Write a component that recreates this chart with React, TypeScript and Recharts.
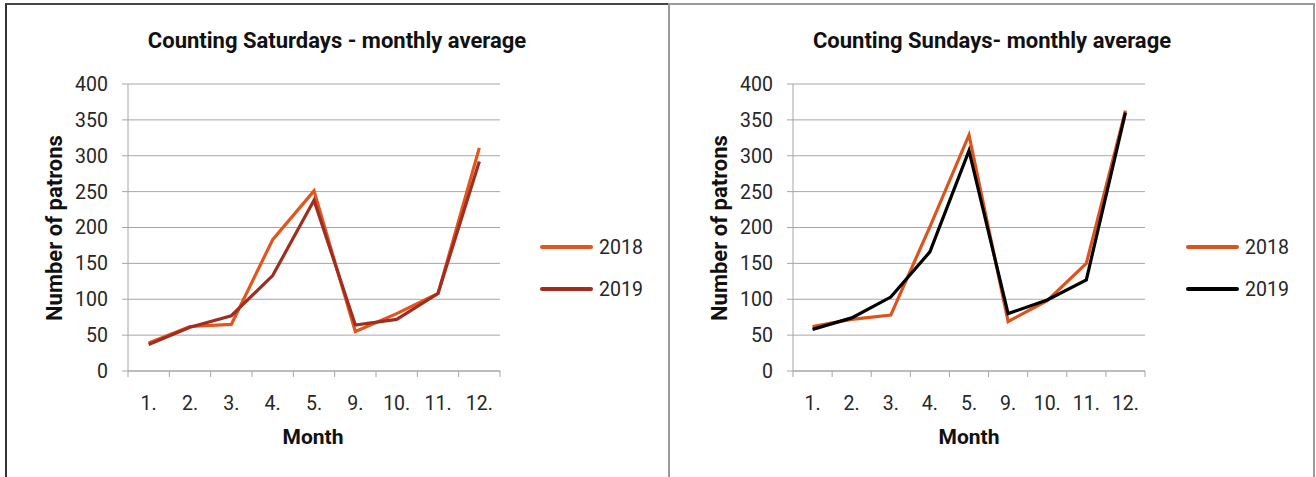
import { LineChart, Line, XAxis, YAxis, CartesianGrid, Legend } from 'recharts';

const months = ['1.', '2.', '3.', '4.', '5.', '9.', '10.', '11.', '12.'];
const yTicks = [0, 50, 100, 150, 200, 250, 300, 350, 400];
const edgeTicks = [0, 1, 2, 3, 4, 5, 6, 7, 8, 9];

const sat2018 = [39, 62, 65, 183, 251, 55, 80, 108, 311];
const sat2019 = [37, 61, 77, 133, 238, 64, 72, 108, 292];
const sun2018 = [62, 72, 78, 201, 329, 69, 98, 150, 363];
const sun2019 = [58, 74, 103, 166, 307, 80, 99, 127, 360];

const FONT = 'Roboto, "DejaVu Sans", sans-serif';
const GRID = '#a6a6a6';
const TEXT = '#262626';

const build = (a: number[], b: number[]) =>
  months.map((m, i) => ({ x: i + 0.5, month: m, y2018: a[i], y2019: b[i] }));

const satData = build(sat2018, sat2019);
const sunData = build(sun2018, sun2019);

// month labels sit between the tick marks, like Excel
const MonthTick = (props: any) => {
  const { x, y, payload, width } = props;
  const v = payload.value;
  if (v >= months.length) return <g />;
  const step = (typeof width === 'number' && width > 0 ? width : 360) / months.length;
  return (
    <text x={x + step / 2} y={y + 31} textAnchor="middle" fill={TEXT} fontSize={19.5} fontFamily={FONT}>
      {months[v]}
    </text>
  );
};

const LegendBox = (props: any) => {
  const items = props.payload || [];
  return (
    <div style={{ fontFamily: FONT }}>
      {items.map((it: any, i: number) => (
        <div key={i} style={{ display: 'flex', alignItems: 'center', height: 42 }}>
          <div style={{ width: 53, height: 4, borderRadius: 2, background: it.color, marginRight: 6 }} />
          <span style={{ fontSize: 19.5, color: TEXT }}>{it.value}</span>
        </div>
      ))}
    </div>
  );
};

type PanelProps = {
  data: any[];
  c2018: string;
  c2019: string;
  left: number;
  width: number;
  axisW: number;
  rightM: number;
  legendLeft: number;
};

const Panel = ({ data, c2018, c2019, left, width, axisW, rightM, legendLeft }: PanelProps) => (
  <div style={{ position: 'absolute', left, top: 0 }}>
    <LineChart width={width} height={477} data={data} margin={{ top: 84, right: rightM, bottom: 66, left: 0 }}>
      <CartesianGrid vertical={false} stroke={GRID} />
      <XAxis
        dataKey="x"
        type="number"
        domain={[0, 9]}
        ticks={edgeTicks}
        interval={0}
        height={40}
        stroke={GRID}
        tickSize={6}
        tick={<MonthTick />}
      />
      <YAxis
        domain={[0, 400]}
        ticks={yTicks}
        width={axisW}
        stroke={GRID}
        tickSize={6}
        tickMargin={14}
        tick={{ fill: TEXT, fontSize: 19.5, fontFamily: FONT }}
      />
      <Legend
        layout="vertical"
        align="center"
        verticalAlign="middle"
        content={<LegendBox />}
        wrapperStyle={{ left: legendLeft, top: 226, width: 110 }}
      />
      <Line dataKey="y2018" name="2018" stroke={c2018} strokeWidth={3.2} dot={false} isAnimationActive={false} />
      <Line dataKey="y2019" name="2019" stroke={c2019} strokeWidth={3.2} dot={false} isAnimationActive={false} />
    </LineChart>
  </div>
);

const label = (text: string, x: number, y: number, size: number, rotate = false) => (
  <div
    style={{
      position: 'absolute',
      left: x,
      top: y,
      transform: `translate(-50%, -50%)${rotate ? ' rotate(-90deg)' : ''}`,
      whiteSpace: 'nowrap',
      fontFamily: FONT,
      fontWeight: 700,
      fontSize: size,
      color: '#111',
    }}
  >
    {text}
  </div>
);

export default function App() {
  return (
    <div style={{ position: 'fixed', left: 0, top: 0, width: 1316, height: 477, background: '#fff', overflow: 'hidden' }}>
      {/* panel frames */}
      <div style={{ position: 'absolute', left: 5, top: 3, width: 663, height: 480, borderLeft: '2px solid #333', borderTop: '2px solid #444', boxSizing: 'border-box' }} />
      <div style={{ position: 'absolute', left: 668, top: 3, width: 647, height: 480, border: '2px solid #9a9a9a', boxSizing: 'border-box' }} />

      <Panel data={satData} c2018="#e2561d" c2019="#a02e1f" left={0} width={668} axisW={128} rightM={168} legendLeft={540} />
      <Panel data={sunData} c2018="#dc531c" c2019="#000000" left={669} width={647} axisW={124} rightM={171} legendLeft={517} />

      {label('Counting Saturdays - monthly average', 337, 40, 22)}
      {label('Counting Sundays- monthly average', 992, 40, 22)}
      {label('Number of patrons', 54, 228, 22, true)}
      {label('Number of patrons', 719, 228, 22, true)}
      {label('Month', 313, 437, 21)}
      {label('Month', 969, 437, 21)}
    </div>
  );
}
